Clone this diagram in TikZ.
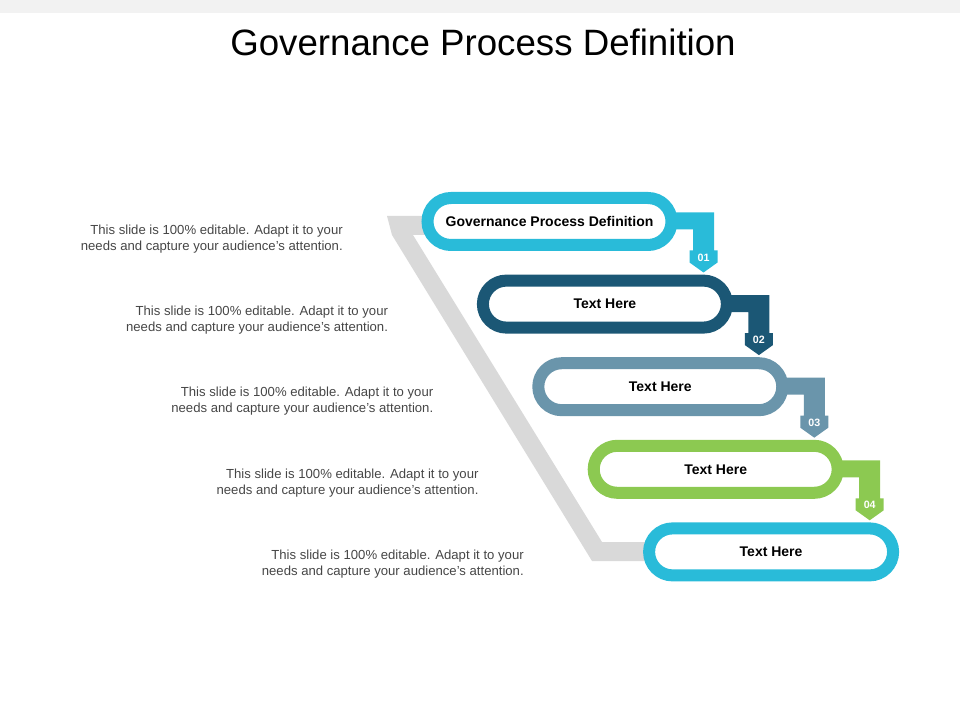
\documentclass[tikz,border=0pt]{standalone}
\usepackage{fontspec}
\setmainfont{Liberation Sans}
\setsansfont{Liberation Sans}
\usetikzlibrary{shapes.misc, calc, positioning}

\definecolor{gcyan}{RGB}{41,187,217}
\definecolor{gdark}{RGB}{27,87,117}
\definecolor{gslate}{RGB}{106,149,171}
\definecolor{ggreen}{RGB}{140,201,81}
\definecolor{bandgray}{RGB}{217,217,217}
\definecolor{notegray}{RGB}{70,70,70}
\definecolor{stripgray}{RGB}{242,242,242}

\pgfdeclarelayer{background}
\pgfsetlayers{background,main}

\tikzset{
	pill/.style={rounded rectangle, draw=#1, fill=white, line width=9pt,
		minimum width=183pt, minimum height=35.25pt, inner sep=0pt,
		font=\sffamily\bfseries\fontsize{10.5}{12}\selectfont, text=black},
	stepnum/.style={text=white, inner sep=0pt, font=\sffamily\bfseries\fontsize{8}{9}\selectfont},
	band/.style={fill=bandgray},
	note/.style={anchor=east, align=right, inner sep=0pt, text=notegray,
		font=\sffamily\fontsize{9.85}{12}\selectfont}
}

\begin{document}
\begin{tikzpicture}[x=0.75pt, y=-0.75pt, font=\sffamily]
		
		% --- 0. Canvas ---
		\useasboundingbox (0,0) rectangle (960,720);
		\fill[stripgray] (0,0) rectangle (960,13);
		
		% --- 1. Title ---
		\node[font=\sffamily\fontsize{27.5}{32}\selectfont] (title) at (483,42) {Governance Process Definition};
		
		% --- 2. The pills, stepping down to the right ---
		\foreach \i/\c/\t in {1/gcyan/Governance Process Definition, 2/gdark/Text Here, 3/gslate/Text Here, 4/ggreen/Text Here, 5/gcyan/Text Here} {
			\node[pill=\c] (p\i) at ({549.5+55.4*(\i-1)}, {221.5+82.6*(\i-1)}) {\t};
		}
		
		% --- 3. Numbered arrows from one pill to the next ---
		\foreach \i/\c in {1/gcyan, 2/gdark, 3/gslate, 4/ggreen} {
			\begin{scope}[shift={(p\i.east)}]
				\fill[\c] (-11,-9) -- (36.5,-9) -- (36.5,29) -- (40,29) -- (40,41) -- (26,51)
				-- (12,41) -- (12,29) -- (15.5,29) -- (15.5,8) -- (-11,8) -- cycle;
				\node[stepnum] (n\i) at (26,36) {0\i};
			\end{scope}
		}
		
		% --- 4. Grey band behind the steps, from the first pill to the last ---
		\begin{pgfonlayer}{background}
			\fill[band] (387,216) -- (p1.center |- 0,216) -- (p1.center |- 0,235) -- (413,235)
			-- (602,542) -- (p5.center |- 0,542) -- (p5.center |- 0,561) -- (592,561)
			-- (392,235) -- cycle;
		\end{pgfonlayer}
		
		% --- 5. Side notes ---
		\foreach \i in {1,...,5} {
			\node[note] (d\i) at ({343+45.25*(\i-1)}, {239+81.25*(\i-1)})
			{This slide is 100\% editable. Adapt it to your\\needs and capture your audience's attention.};
		}
		
	\end{tikzpicture}
\end{document}
